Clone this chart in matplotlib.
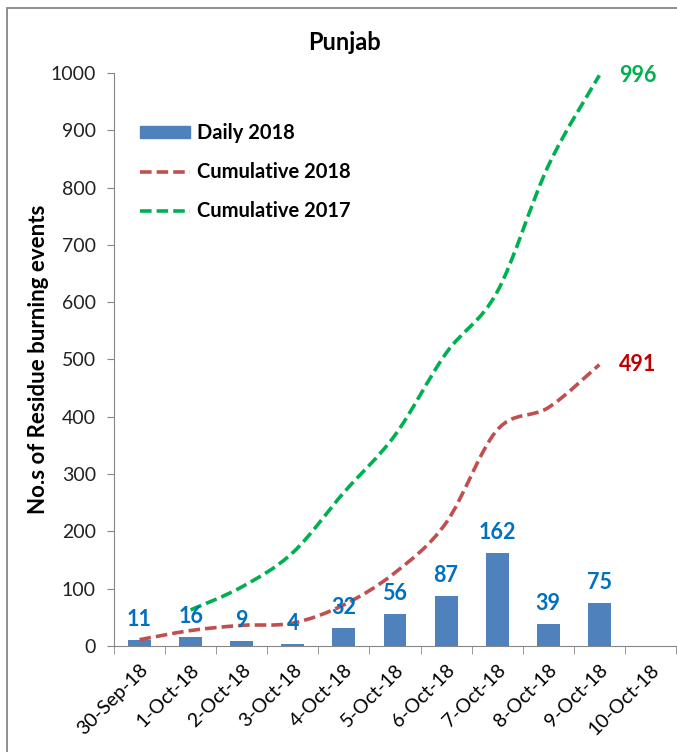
import numpy as np
import matplotlib.pyplot as plt
from matplotlib.path import Path
from matplotlib.patches import PathPatch, Rectangle
from matplotlib.lines import Line2D

plt.rcParams['font.family'] = ['Lato', 'DejaVu Sans']

# data
dates = ['30-Sep-18', '1-Oct-18', '2-Oct-18', '3-Oct-18', '4-Oct-18', '5-Oct-18',
         '6-Oct-18', '7-Oct-18', '8-Oct-18', '9-Oct-18', '10-Oct-18']
daily_2018 = [11, 16, 9, 4, 32, 56, 87, 162, 39, 75]
cum_2018 = [11, 27, 36, 40, 72, 128, 215, 377, 416, 491]
cum_2017 = [63, 103, 163, 268, 368, 511, 618, 838, 996]   # starts at 1-Oct

blue = '#4F81BD'
red = '#C0504D'
green = '#00B050'
label_blue = '#0070C0'


def smooth_path(xs, ys):
    # excel style smoothed line: bezier segments through the points
    pts = np.column_stack([xs, ys]).astype(float)
    verts = [pts[0]]
    codes = [Path.MOVETO]
    n = len(pts)
    for i in range(n - 1):
        p0 = pts[i - 1] if i > 0 else pts[i]
        p1 = pts[i]
        p2 = pts[i + 1]
        p3 = pts[i + 2] if i + 2 < n else pts[i + 1]
        c1 = p1 + (p2 - p0) / 6
        c2 = p2 - (p3 - p1) / 6
        verts += [c1, c2, p2]
        codes += [Path.CURVE4] * 3
    return Path(verts, codes)


fig = plt.figure(figsize=(6.77, 7.52), dpi=100)
ax = fig.add_axes([114 / 677, 1 - 646 / 752, 562 / 677, 573 / 752])

# outer chart border
fig.patches.append(Rectangle((7 / 677, -0.1), 1.2, 1 - 8 / 752 + 0.1, transform=fig.transFigure,
                             fill=False, edgecolor='#868686', linewidth=1.3))

x = np.arange(len(dates))
x_daily = x[:len(daily_2018)]
ax.bar(x_daily, daily_2018, width=0.45, color=blue, zorder=2)

dash = (0, (3.2, 1.4))
ax.add_patch(PathPatch(smooth_path(x[:len(cum_2018)], cum_2018), fill=False,
                       edgecolor=red, linewidth=2.6, linestyle=dash, zorder=3))
ax.add_patch(PathPatch(smooth_path(x[1:1 + len(cum_2017)], cum_2017), fill=False,
                       edgecolor=green, linewidth=2.6, linestyle=dash, zorder=3))

for xi, v in zip(x_daily, daily_2018):
    ax.annotate(str(v), (xi, v), xytext=(0, 7), textcoords='offset points',
                ha='center', va='bottom', color=label_blue, fontsize=15.5, fontweight='bold', zorder=4)

ax.annotate(str(cum_2017[-1]), (x[len(cum_2017)], cum_2017[-1]), xytext=(14, 0),
            textcoords='offset points', ha='left', va='center', color=green,
            fontsize=15.5, fontweight='bold')
ax.annotate(str(cum_2018[-1]), (x[len(cum_2018) - 1], cum_2018[-1]), xytext=(14, 0),
            textcoords='offset points', ha='left', va='center', color='#C00000',
            fontsize=15.5, fontweight='bold')

ax.set_xlim(-0.5, len(dates) - 0.5)
ax.set_ylim(0, 1000)
ax.set_yticks(range(0, 1001, 100))
ax.tick_params(axis='y', labelsize=14, length=5, color='#868686', labelcolor='#222222', pad=8)
ax.set_xticks(x)
ax.set_xticklabels(dates, rotation=45, ha='right', rotation_mode='anchor', fontsize=14)
ax.tick_params(axis='x', length=0, pad=11)
ax.set_xticks(np.arange(-0.5, len(dates)), minor=True)
ax.tick_params(axis='x', which='minor', length=6, color='#868686')

for side in ['top', 'right']:
    ax.spines[side].set_visible(False)
for side in ['left', 'bottom']:
    ax.spines[side].set_color('#868686')

ax.set_ylabel('No.s of Residue burning events', fontsize=16, fontweight='bold', labelpad=1)
fig.text(345 / 677, 1 - 43 / 752, 'Punjab', ha='center', va='center',
         fontsize=17, fontweight='bold')

handles = [Rectangle((0, 0), 1, 1, color=blue),
           Line2D([], [], color=red, linewidth=2.6, linestyle=dash),
           Line2D([], [], color=green, linewidth=2.6, linestyle=dash)]
ax.legend(handles, ['Daily 2018', 'Cumulative 2018', 'Cumulative 2017'],
          loc='upper left', bbox_to_anchor=(0.028, 0.93), frameon=False,
          prop={'size': 14.5, 'weight': 'bold'}, handlelength=2.5, handleheight=0.6,
          handletextpad=0.35, labelspacing=0.95, borderpad=0)

fig.savefig('out.png', dpi=100)
